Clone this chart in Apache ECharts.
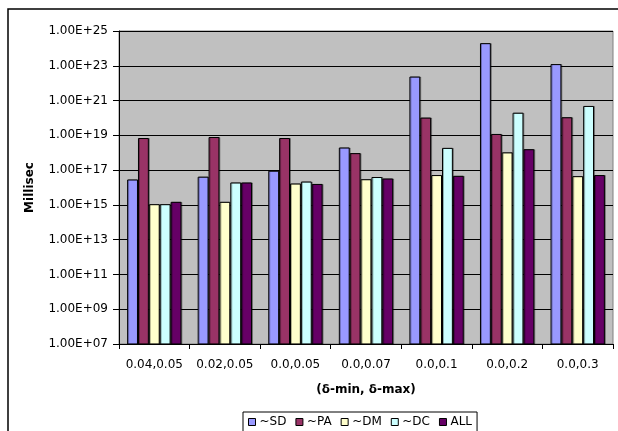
<!DOCTYPE html>
<html>
<head>
<meta charset="utf-8">
<script src="https://cdn.jsdelivr.net/npm/echarts@6/dist/echarts.min.js"></script>
<style>
  html, body { margin: 0; padding: 0; background: #fff; }
  #chart { width: 618px; height: 431px; }
</style>
</head>
<body>
<div id="chart"></div>
<script>
// Range pairs (δ-min, δ-max) along the x axis
const categories = ['0.04,0.05', '0.02,0.05', '0.0,0.05', '0.0,0.07', '0.0,0.1', '0.0,0.2', '0.0,0.3'];

// Running time in milliseconds for each variant
const seriesNames = ['~SD', '~PA', '~DM', '~DC', 'ALL'];
const sdValues  = [2.9e16, 4.2e16, 9.3e16, 2.0e18, 2.4e22, 2.0e24, 1.25e23];
const paValues  = [7.0e18, 8.0e18, 7.0e18, 9.5e17, 1.05e20, 1.2e19, 1.1e20];
const dmValues  = [1.1e15, 1.5e15, 1.7e16, 3.0e16, 5.2e16, 1.05e18, 4.5e16];
const dcValues  = [1.1e15, 1.95e16, 2.2e16, 4.0e16, 1.9e18, 2.0e20, 4.9e20];
const allValues = [1.5e15, 1.95e16, 1.6e16, 3.3e16, 4.7e16, 1.6e18, 5.2e16];

const seriesValues = [sdValues, paValues, dmValues, dcValues, allValues];
const seriesColors = ['#9999FF', '#993366', '#FFFFCC', '#CCFFFF', '#660066'];

const FONT = 'DejaVu Sans';

function sciLabel(v) {
  const exp = Math.round(Math.log10(v));
  const sign = exp < 0 ? '-' : '+';
  const a = Math.abs(exp);
  return '1.00E' + sign + (a < 10 ? '0' : '') + a;
}

const chart = echarts.init(document.getElementById('chart'), null, { renderer: 'canvas' });

chart.setOption({
  animation: false,
  backgroundColor: '#ffffff',
  graphic: [{
    type: 'rect',
    shape: { x: 8, y: 9, width: 700, height: 500 },
    style: { fill: 'none', stroke: '#000', lineWidth: 1.5 },
    z: 0
  }],
  grid: {
    left: 119, right: 5, top: 31, bottom: 87,
    show: true,
    backgroundColor: '#C0C0C0',
    borderColor: '#808080',
    borderWidth: 1
  },
  legend: {
    data: seriesNames,
    left: 243,
    top: 412,
    orient: 'horizontal',
    padding: [4, 5],
    itemGap: 9,
    itemWidth: 7,
    itemHeight: 7,
    icon: 'rect',
    borderColor: '#000',
    borderWidth: 1,
    backgroundColor: '#fff',
    itemStyle: { borderColor: '#000', borderWidth: 1, shadowColor: 'transparent', shadowBlur: 0, shadowOffsetX: 0, shadowOffsetY: 0 },
    textStyle: { fontFamily: FONT, fontSize: 12, color: '#000', padding: [0, 0, 0, -1] }
  },
  xAxis: {
    type: 'category',
    data: categories,
    name: '(δ-min, δ-max)',
    nameLocation: 'middle',
    nameGap: 40,
    nameTextStyle: { fontFamily: FONT, fontSize: 12, fontWeight: 'bold', color: '#000' },
    axisLine: { show: true, lineStyle: { color: '#000', width: 1 } },
    axisTick: { show: true, alignWithLabel: false, length: 5, lineStyle: { color: '#000' } },
    axisLabel: { fontFamily: FONT, fontSize: 12, color: '#000', margin: 15, interval: 0 },
    splitLine: { show: false }
  },
  yAxis: {
    type: 'log',
    logBase: 10,
    min: 1e7,
    max: 1e25,
    interval: 2,
    name: 'Millisec',
    nameLocation: 'middle',
    nameRotate: 90,
    nameGap: 83,
    nameTextStyle: { fontFamily: FONT, fontSize: 12, fontWeight: 'bold', color: '#000' },
    axisLine: { show: true, lineStyle: { color: '#000', width: 1 } },
    axisTick: { show: true, inside: false, length: 6, lineStyle: { color: '#000' } },
    axisLabel: { fontFamily: FONT, fontSize: 12, color: '#000', margin: 11, formatter: sciLabel },
    splitLine: { show: true, lineStyle: { color: '#000', width: 1 } },
    minorTick: { show: false },
    minorSplitLine: { show: false }
  },
  series: seriesNames.map((name, i) => ({
    name: name,
    type: 'bar',
    data: seriesValues[i],
    clip: true,
    barGap: '0%',
    barCategoryGap: '23%',
    itemStyle: {
      color: seriesColors[i],
      borderColor: '#000',
      borderWidth: 1,
      shadowColor: 'rgba(0,0,0,0.3)',
      shadowBlur: 0,
      shadowOffsetX: 1,
      shadowOffsetY: 0
    },
    emphasis: { disabled: true }
  }))
});
</script>
</body>
</html>
